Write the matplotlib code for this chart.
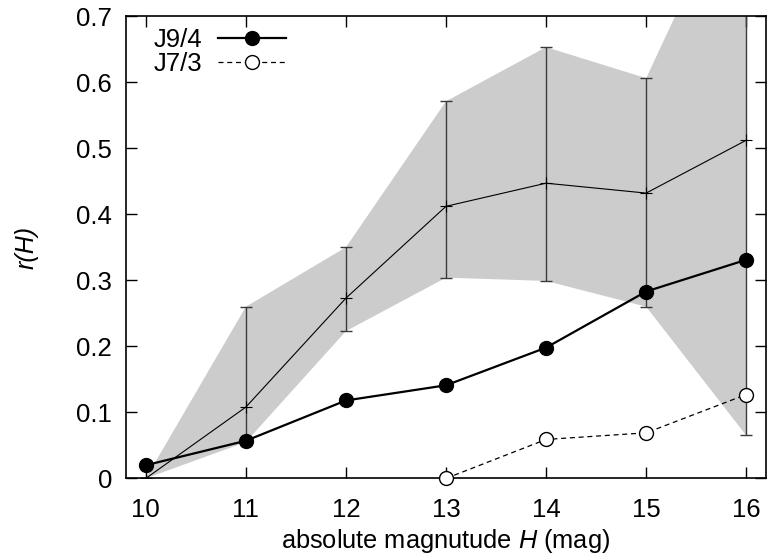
import matplotlib
matplotlib.use("Agg")
import matplotlib.pyplot as plt

plt.rcParams['font.family'] = ['Liberation Sans', 'DejaVu Sans']
plt.rcParams['mathtext.fontset'] = 'custom'
plt.rcParams['mathtext.rm'] = 'Liberation Sans'
plt.rcParams['mathtext.it'] = 'Liberation Sans:italic'

H = [10, 11, 12, 13, 14, 15, 16]
j94 = [0.020, 0.057, 0.118, 0.141, 0.198, 0.283, 0.331]
H73 = [13, 14, 15, 16]
j73 = [0.0, 0.059, 0.069, 0.127]
mean = [0.0, 0.108, 0.273, 0.412, 0.447, 0.432, 0.512]
lower = [0.0, 0.055, 0.223, 0.304, 0.299, 0.260, 0.065]
upper = [0.0, 0.260, 0.350, 0.571, 0.653, 0.606, 0.930]

fig = plt.figure(figsize=(7.67, 5.55), dpi=100)
ax = fig.add_axes([0.164, 0.138, 0.835, 0.833])

ax.fill_between(H, lower, upper, color='#cccccc', linewidth=0, zorder=1)
err_lo = [m - l for m, l in zip(mean, lower)]
err_hi = [u - m for m, u in zip(mean, upper)]
ax.errorbar(H[1:], mean[1:], yerr=[err_lo[1:], err_hi[1:]], fmt='none',
            ecolor='#3a3a3a', elinewidth=1.0, capsize=4, capthick=1.0, zorder=2)
ax.plot(H, mean, color='black', linewidth=0.8, marker='+', markersize=8,
        markeredgewidth=0.8, zorder=3)

ax.plot(H, j94, color='black', linewidth=1.6, marker='o', markersize=10,
        markerfacecolor='black', label='J9/4', zorder=5, clip_on=False)
ax.plot(H73, j73, color='black', linewidth=0.9, linestyle=(0, (4, 3)), marker='o',
        markersize=10, markerfacecolor='white', markeredgewidth=1.0,
        label='J7/3', zorder=5, clip_on=False)

ax.set_xlim(9.8, 16.2)
ax.set_ylim(0, 0.7)
ax.set_xticks(H)
ax.set_yticks([0, 0.1, 0.2, 0.3, 0.4, 0.5, 0.6, 0.7])
ax.set_yticklabels(['0', '0.1', '0.2', '0.3', '0.4', '0.5', '0.6', '0.7'])
ax.tick_params(direction='in', top=True, right=True, length=8, width=1,
               labelsize=18.5)
ax.tick_params(axis='x', pad=14)
ax.tick_params(axis='y', pad=10)
for s in ax.spines.values():
    s.set_linewidth(1.2)

ax.set_xlabel('absolute magnutude $H$ (mag)', fontsize=18.3, labelpad=4)
ax.set_ylabel('r(H)', fontsize=18, fontstyle='italic', labelpad=27)

ax.legend(loc='upper left', bbox_to_anchor=(0.044, 0.974), frameon=False,
          markerfirst=False, fontsize=18.5, handlelength=2.65, borderpad=0,
          borderaxespad=0, labelspacing=0.0, handletextpad=0.6)

fig.savefig('out.png', dpi=100)
